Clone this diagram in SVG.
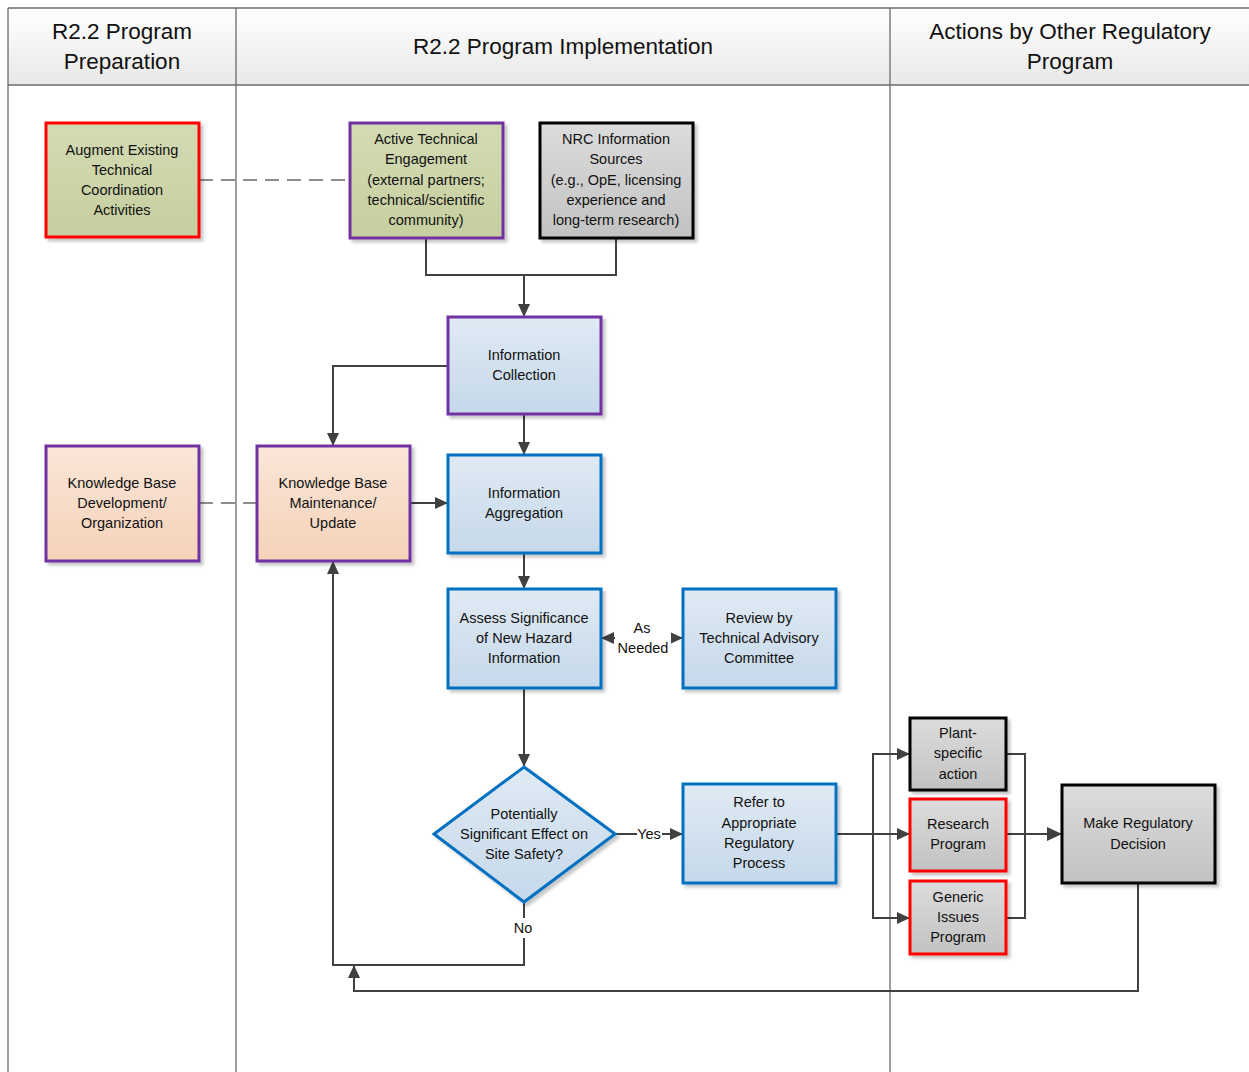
<svg xmlns="http://www.w3.org/2000/svg" width="1249" height="1072" viewBox="0 0 1249 1072">
<defs>
<linearGradient id="hdr" x1="0" y1="0" x2="0" y2="1"><stop offset="0" stop-color="#ffffff"/><stop offset="1" stop-color="#e8e8e8"/></linearGradient>
<linearGradient id="green" x1="0" y1="0" x2="0" y2="1"><stop offset="0" stop-color="#d4dbb3"/><stop offset="1" stop-color="#c6cf9f"/></linearGradient>
<linearGradient id="gray" x1="0" y1="0" x2="0" y2="1"><stop offset="0" stop-color="#dcdcdc"/><stop offset="1" stop-color="#c2c2c2"/></linearGradient>
<linearGradient id="blue" x1="0" y1="0" x2="0" y2="1"><stop offset="0" stop-color="#e0eaf4"/><stop offset="1" stop-color="#c5d8ea"/></linearGradient>
<linearGradient id="peach" x1="0" y1="0" x2="0" y2="1"><stop offset="0" stop-color="#fae6d8"/><stop offset="1" stop-color="#f5d2b9"/></linearGradient>
<filter id="sh" x="-10%" y="-10%" width="130%" height="130%"><feDropShadow dx="3" dy="3" stdDeviation="1.5" flood-color="#000" flood-opacity="0.22"/></filter>
<marker id="ar" viewBox="0 0 13 12" refX="13" refY="6" markerWidth="13" markerHeight="12" markerUnits="userSpaceOnUse" orient="auto-start-reverse"><path d="M0,0 L13,6 L0,12 Z" fill="#404040"/></marker>
<marker id="arL" viewBox="0 0 15 14" refX="15" refY="7" markerWidth="15" markerHeight="14" markerUnits="userSpaceOnUse" orient="auto"><path d="M0,0 L15,7 L0,14 Z" fill="#404040"/></marker>
</defs>
<style>
.lane{stroke:#6b6b6b;stroke-width:1.3;fill:none}
.h{font-family:"Liberation Sans",Arial,sans-serif;font-size:22.5px;fill:#111;text-anchor:middle}
.t{font-family:"Liberation Sans",Arial,sans-serif;font-size:14.5px;fill:#111;text-anchor:middle}
.box{stroke-width:3;filter:url(#sh)}
.c{stroke:#404040;stroke-width:2;fill:none}
.d{stroke:#8c8c8c;stroke-width:2;fill:none;stroke-dasharray:14,8}
.pur{stroke:#7030a0}.red{stroke:#ff0000}.blk{stroke:#000}.blu{stroke:#0070c0}
</style>
<g id="lanes">
<rect x="8" y="8" width="1245" height="77" fill="url(#hdr)"/>
<path class="lane" d="M8,8 H1249 M8,85 H1249 M8,8 V1072 M236,8 V1072 M890,8 V1072"/>
<text class="h" x="122" y="39">R2.2 Program</text>
<text class="h" x="122" y="69">Preparation</text>
<text class="h" x="563" y="54">R2.2 Program Implementation</text>
<text class="h" x="1070" y="39">Actions by Other Regulatory</text>
<text class="h" x="1070" y="69">Program</text>
</g>
<g id="connectors">
<path class="d" d="M199,180 H350"/>
<path class="d" d="M199,503 H257"/>
<path class="c" d="M426,238 V275 H616 V238"/>
<path class="c" d="M524,275 V317" marker-end="url(#ar)"/>
<path class="c" d="M448,366 H333 V446" marker-end="url(#ar)"/>
<path class="c" d="M524,414 V455" marker-end="url(#ar)"/>
<path class="c" d="M410,503 H448" marker-end="url(#ar)"/>
<path class="c" d="M524,553 V589" marker-end="url(#ar)"/>
<path class="c" d="M524,688 V767" marker-end="url(#ar)"/>
<path class="c" d="M601,638 H683" marker-start="url(#ar)" marker-end="url(#ar)"/>
<rect x="615" y="620" width="56" height="36" fill="#fff"/>
<text class="t" x="642" y="633">As</text>
<text class="t" x="643" y="653">Needed</text>
<path class="c" d="M615,834 H683" marker-end="url(#ar)"/>
<rect x="637" y="824" width="25" height="20" fill="#fff"/>
<text class="t" x="649" y="839">Yes</text>
<path class="c" d="M524,902 V965 H333 V561" marker-end="url(#ar)"/>
<rect x="510" y="918" width="28" height="20" fill="#fff"/>
<text class="t" x="523" y="933">No</text>
<path class="c" d="M836,834 H910" marker-end="url(#ar)"/>
<path class="c" d="M910,754 H873 V918 H910" marker-end="url(#ar)"/>
<path class="c" d="M873,754 H910" marker-end="url(#ar)"/>
<path class="c" d="M1006,754 H1025 V918 H1006"/>
<path class="c" d="M1006,834 H1062" stroke-width="2.6" marker-end="url(#arL)"/>
<path class="c" d="M1138,883 V991 H354 V965" marker-end="url(#ar)"/>
</g>
<g id="augment">
<rect class="box red" x="46" y="123" width="153" height="114" fill="url(#green)"/>
<text class="t" x="122" y="155">Augment Existing</text>
<text class="t" x="122" y="175">Technical</text>
<text class="t" x="122" y="195">Coordination</text>
<text class="t" x="122" y="215">Activities</text>
</g>
<g id="active">
<rect class="box pur" x="350" y="123" width="153" height="115" fill="url(#green)"/>
<text class="t" x="426" y="144">Active Technical</text>
<text class="t" x="426" y="164">Engagement</text>
<text class="t" x="426" y="185">(external partners;</text>
<text class="t" x="426" y="205">technical/scientific</text>
<text class="t" x="426" y="225">community)</text>
</g>
<g id="nrc">
<rect class="box blk" x="540" y="123" width="153" height="115" fill="url(#gray)"/>
<text class="t" x="616" y="144">NRC Information</text>
<text class="t" x="616" y="164">Sources</text>
<text class="t" x="616" y="185">(e.g., OpE, licensing</text>
<text class="t" x="616" y="205">experience and</text>
<text class="t" x="616" y="225">long-term research)</text>
</g>
<g id="collection">
<rect class="box pur" x="448" y="317" width="153" height="97" fill="url(#blue)"/>
<text class="t" x="524" y="360">Information</text>
<text class="t" x="524" y="380">Collection</text>
</g>
<g id="kbdev">
<rect class="box pur" x="46" y="446" width="153" height="115" fill="url(#peach)"/>
<text class="t" x="122" y="488">Knowledge Base</text>
<text class="t" x="122" y="508">Development/</text>
<text class="t" x="122" y="528">Organization</text>
</g>
<g id="kbmaint">
<rect class="box pur" x="257" y="446" width="153" height="115" fill="url(#peach)"/>
<text class="t" x="333" y="488">Knowledge Base</text>
<text class="t" x="333" y="508">Maintenance/</text>
<text class="t" x="333" y="528">Update</text>
</g>
<g id="aggregation">
<rect class="box blu" x="448" y="455" width="153" height="98" fill="url(#blue)"/>
<text class="t" x="524" y="498">Information</text>
<text class="t" x="524" y="518">Aggregation</text>
</g>
<g id="assess">
<rect class="box blu" x="448" y="589" width="153" height="99" fill="url(#blue)"/>
<text class="t" x="524" y="623">Assess Significance</text>
<text class="t" x="524" y="643">of New Hazard</text>
<text class="t" x="524" y="663">Information</text>
</g>
<g id="review">
<rect class="box blu" x="683" y="589" width="153" height="99" fill="url(#blue)"/>
<text class="t" x="759" y="623">Review by</text>
<text class="t" x="759" y="643">Technical Advisory</text>
<text class="t" x="759" y="663">Committee</text>
</g>
<g id="decision">
<path class="box blu" d="M524,767 L615,834 L524,902 L434,834 Z" fill="url(#blue)"/>
<text class="t" x="524" y="819">Potentially</text>
<text class="t" x="524" y="839">Significant Effect on</text>
<text class="t" x="524" y="859">Site Safety?</text>
</g>
<g id="refer">
<rect class="box blu" x="683" y="784" width="153" height="99" fill="url(#blue)"/>
<text class="t" x="759" y="807">Refer to</text>
<text class="t" x="759" y="828">Appropriate</text>
<text class="t" x="759" y="848">Regulatory</text>
<text class="t" x="759" y="868">Process</text>
</g>
<g id="plant">
<rect class="box blk" x="910" y="718" width="96" height="72" fill="url(#gray)"/>
<text class="t" x="958" y="738">Plant-</text>
<text class="t" x="958" y="758">specific</text>
<text class="t" x="958" y="779">action</text>
</g>
<g id="research">
<rect class="box red" x="910" y="799" width="96" height="72" fill="url(#gray)"/>
<text class="t" x="958" y="829">Research</text>
<text class="t" x="958" y="849">Program</text>
</g>
<g id="generic">
<rect class="box red" x="910" y="881" width="96" height="73" fill="url(#gray)"/>
<text class="t" x="958" y="902">Generic</text>
<text class="t" x="958" y="922">Issues</text>
<text class="t" x="958" y="942">Program</text>
</g>
<g id="make">
<rect class="box blk" x="1062" y="785" width="153" height="98" fill="url(#gray)"/>
<text class="t" x="1138" y="828">Make Regulatory</text>
<text class="t" x="1138" y="849">Decision</text>
</g>
</svg>
